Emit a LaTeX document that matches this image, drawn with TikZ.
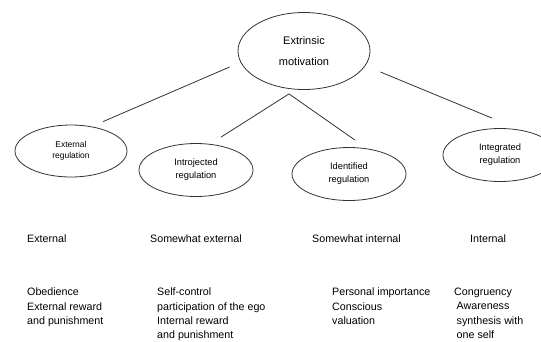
\documentclass[tikz,border=0pt]{standalone}
\usepackage{fontspec}
\setmainfont{Liberation Sans}
\usetikzlibrary{positioning, shapes}

\begin{document}
\begin{tikzpicture}[x = 1pt, y = -1pt,
  regul/.style={ellipse, draw = black!80, line width = 0.8pt, inner sep = 0pt, minimum width = 114pt, minimum height = 53pt, align = center, font = \fontsize{9.3}{13}\selectfont},
  link/.style={draw = black!80, line width = 0.8pt},
  level/.style={anchor = base west, inner sep = 0pt, font = \fontsize{10.7}{14.3}\selectfont},
  facts/.style={anchor = north west, inner sep = 0pt, align = left, font = \fontsize{10.7}{14.3}\selectfont}]
  \useasboundingbox (0,0) rectangle (541,341);
  % nodes
  \node [regul, minimum width = 132pt, minimum height = 77pt, font = \fontsize{11}{21}\selectfont] (extr) at (304,51) {Extrinsic\\motivation};
  \node [regul, minimum width = 112pt, minimum height = 52pt, font = \fontsize{8.5}{11}\selectfont] (ext) at (71,151) {External\\regulation};
  \node [regul] (intro) at (196,170) {Introjected\\regulation};
  \node [regul] (ident) at (349,174) {Identified\\regulation};
  \node [regul] (integ) at (500,155) {Integrated\\regulation};

  \node [level] (lv1) at (27,242) {External};
  \node [level] (lv2) at (150,242) {Somewhat external};
  \node [level] (lv3) at (312,242) {Somewhat internal};
  \node [level] (lv4) at (470,242) {Internal};

  \node [facts] (fc1) at (27,288) {Obedience\\External reward\\and punishment};
  \node [facts] (fc2) at (157,288) {Self-control\\participation of the ego\\Internal reward\\and punishment};
  \node [facts] (fc3) at (332,288) {Personal importance\\Conscious\\valuation};
  \node [facts] (fc4) at (454,288) {Congruency\\\hspace*{2.5pt}Awareness\\\hspace*{2.5pt}synthesis with\\\hspace*{2.5pt}one self};

  % edges
  \coordinate (fork) at ([shift={(-15,4)}]extr.south);
  \draw [link] ([shift={(32,-3)}]ext.north) -- ([shift={(-8,16)}]extr.west);
  \draw [link] ([shift={(25,-6)}]intro.north) -- (fork) -- ([shift={(6,-7)}]ident.north);
  \draw [link] ([shift={(10,21)}]extr.east) -- ([shift={(-8,-10)}]integ.north);
\end{tikzpicture}
\end{document}
